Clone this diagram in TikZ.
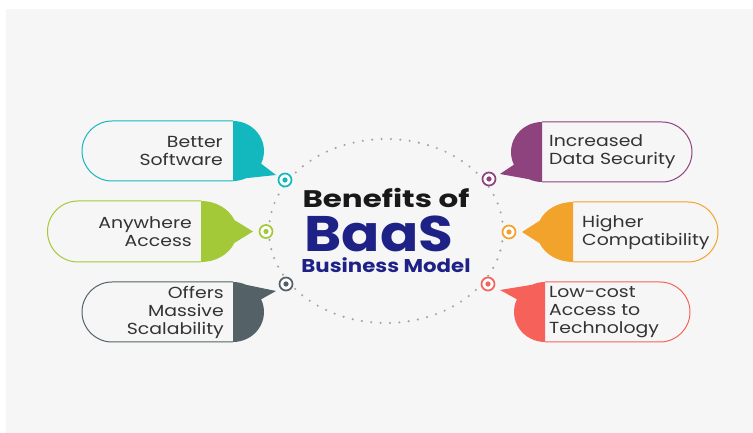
\documentclass[tikz,border=0pt]{standalone}
\usepackage{fontspec}
\setmainfont{Poppins}
\usepackage{tikz}
\definecolor{cteal}{RGB}{18,184,190}
\definecolor{cgreen}{RGB}{163,201,56}
\definecolor{cslate}{RGB}{84,97,103}
\definecolor{cpurple}{RGB}{142,66,126}
\definecolor{corange}{RGB}{241,163,44}
\definecolor{ccoral}{RGB}{246,98,89}
\definecolor{cnavy}{RGB}{30,34,135}
\definecolor{cbg}{RGB}{246,246,246}
\definecolor{ctext}{RGB}{51,51,51}
\begin{document}
\begin{tikzpicture}[x=1pt,y=1pt,
    pill/.style={draw=#1, line width=1pt},
    ring/.style={circle, draw=#1, fill=white, line width=1.7pt, minimum size=13pt, inner sep=0pt,
        path picture={\fill[#1] (path picture bounding box.center) circle (2.6pt);}},
    lbl/.style={font=\fontsize{16}{18}\selectfont, text=ctext, inner sep=0pt, xscale=1.18},
    head/.style={anchor=base, inner sep=0pt}]
    \useasboundingbox (0,0) rectangle (753,433);
    \fill[cbg] (6,0) rectangle (753,424);
    
    % dotted ring round the title
    \draw[gray!70, line width=2.4pt, line cap=round, dash pattern=on 0pt off 9.4pt] (386,202) ellipse (117 and 92);
    
    \node[head, font=\fontsize{24}{28}\bfseries\selectfont, text=black!90, xscale=1.29] (title) at (386,225) {Benefits of};
    \node[head, font=\fontsize{50}{54}\bfseries\selectfont, text=cnavy, xscale=1.13] (baas) at (379,181) {BaaS};
    \node[head, font=\fontsize{18.5}{22}\bfseries\selectfont, text=cnavy, xscale=1.15] (model) at (386,160) {Business Model};
    
    % left side
    \draw[pill=cteal] (233,312) -- (112,312) arc (90:270:30) -- (233,252);
    \fill[cteal] (233,312) arc (90:-25:31 and 30) -- (276,258) -- ([shift={(233,282)}]-65:31 and 30) arc (-65:-90:31 and 30) -- cycle;
    \node[lbl, align=right, anchor=east] (better) at (223,282) {Better\\Software};
    \node[ring=cteal] (tgt1) at (285,253) {};
    
    \draw[pill=cgreen] (201,232) -- (78,232) arc (90:270:30.5) -- (201,171);
    \fill[cgreen] (201,232) arc (90:22:36 and 30.5) -- (253,201.5) -- ([shift={(201,201.5)}]-22:36 and 30.5) arc (-22:-90:36 and 30.5) -- cycle;
    \node[lbl, align=right, anchor=east] (anywhere) at (192,201.5) {Anywhere\\Access};
    \node[ring=cgreen] (tgt2) at (266,201.5) {};
    
    \draw[pill=cslate] (233,151) -- (112,151) arc (90:270:30) -- (233,91);
    \fill[cslate] (233,151) arc (90:65:31 and 30) -- (276,142) -- ([shift={(233,121)}]25:31 and 30) arc (25:-90:31 and 30) -- cycle;
    \node[lbl, align=right, anchor=east] (offers) at (224,121) {Offers\\Massive\\Scalability};
    \node[ring=cslate] (tgt3) at (286,149) {};
    
    % right side
    \draw[pill=cpurple] (542,311) -- (662,311) arc (90:-90:30) -- (542,251);
    \fill[cpurple] (542,311) arc (90:205:31 and 30) -- (500,259) -- ([shift={(542,281)}]245:31 and 30) arc (245:270:31 and 30) -- cycle;
    \node[lbl, align=left, anchor=west] (secure) at (549,281) {Increased\\Data Security};
    \node[ring=cpurple] (tgt4) at (489,254) {};
    
    \draw[pill=corange] (573,231) -- (688,231) arc (90:-90:30) -- (573,171);
    \fill[corange] (573,231) arc (90:158:36 and 30) -- (522,201) -- ([shift={(573,201)}]202:36 and 30) arc (202:270:36 and 30) -- cycle;
    \node[lbl, align=left, anchor=west] (compat) at (582,201) {Higher\\Compatibility};
    \node[ring=corange] (tgt5) at (509,201) {};
    
    \draw[pill=ccoral] (545,151) -- (660,151) arc (90:-90:30) -- (545,91);
    \fill[ccoral] (545,151) arc (90:115:31 and 30) -- (500,143) -- ([shift={(545,121)}]155:31 and 30) arc (155:270:31 and 30) -- cycle;
    \node[lbl, align=left, anchor=west] (lowcost) at (549,121) {Low-cost\\Access to\\Technology};
    \node[ring=ccoral] (tgt6) at (488,149) {};
\end{tikzpicture}
\end{document}
